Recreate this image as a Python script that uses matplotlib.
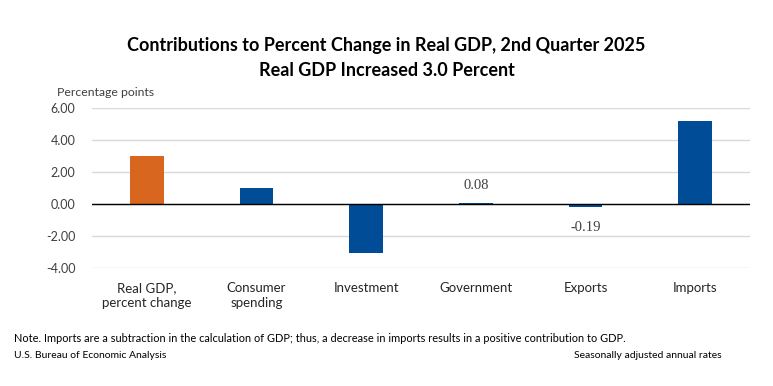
import matplotlib
matplotlib.use("Agg")
import matplotlib.pyplot as plt

# data
categories = ["Real GDP,\npercent change", "Consumer\nspending", "Investment",
              "Government", "Exports", "Imports"]
values = [3.0, 0.98, -3.06, 0.08, -0.19, 5.18]
bar_colors = ["#D9661F", "#004C97", "#004C97", "#004C97", "#004C97", "#004C97"]
labeled = {3: "0.08", 4: "-0.19"}
yticks = [-4, -2, 0, 2, 4, 6]

plt.rcParams['font.family'] = ['Lato', 'DejaVu Sans']

fig = plt.figure(figsize=(7.73, 3.86), dpi=100)
ax = fig.add_axes([92 / 773, 1 - 268 / 386, (750 - 92) / 773, (268 - 108) / 386])

x = range(len(categories))
ax.bar(x, values, width=0.31, color=bar_colors, zorder=3)

ax.set_xlim(-0.5, len(categories) - 0.5)
ax.set_ylim(-4, 6)
ax.set_yticks(yticks)
ax.set_yticklabels([f"{v:.2f}" for v in yticks], fontsize=9, color="#404040")
ax.set_xticks(list(x))
ax.set_xticklabels(categories, fontsize=9.5, color="#262626", linespacing=1.3)
ax.tick_params(axis="both", length=0)
ax.tick_params(axis="x", pad=10)
ax.tick_params(axis="y", pad=12)
ax.grid(axis="y", color="#D9D9D9", linewidth=1, zorder=0)
ax.axhline(0, color="black", linewidth=1, zorder=4)
for s in ax.spines.values():
    s.set_visible(False)

for i, txt in labeled.items():
    v = values[i]
    off = 1.1 if v > 0 else -1.3
    ax.text(i, v + off, txt, ha="center", va="center", fontsize=10.5,
            color="#404040", family="Liberation Serif")

fig.text(0.5, 1 - 45 / 386, "Contributions to Percent Change in Real GDP, 2nd Quarter 2025",
         ha="center", va="center", fontsize=13, fontweight="bold", color="black")
fig.text(0.5, 1 - 70 / 386, "Real GDP Increased 3.0 Percent",
         ha="center", va="center", fontsize=13, fontweight="bold", color="black")
fig.text(57 / 773, 1 - 93 / 386, "Percentage points", ha="left", va="center",
         fontsize=8.8, color="#404040")

fig.text(14 / 773, 1 - 339 / 386,
         "Note. Imports are a subtraction in the calculation of GDP; thus, a decrease in imports "
         "results in a positive contribution to GDP.",
         ha="left", va="center", fontsize=7.9, color="black")
fig.text(14 / 773, 1 - 356 / 386, "U.S. Bureau of Economic Analysis",
         ha="left", va="center", fontsize=7.5, color="black")
fig.text(722 / 773, 1 - 356 / 386, "Seasonally adjusted annual rates",
         ha="right", va="center", fontsize=7.5, color="black")

fig.savefig("out.png", dpi=100, facecolor="white")
